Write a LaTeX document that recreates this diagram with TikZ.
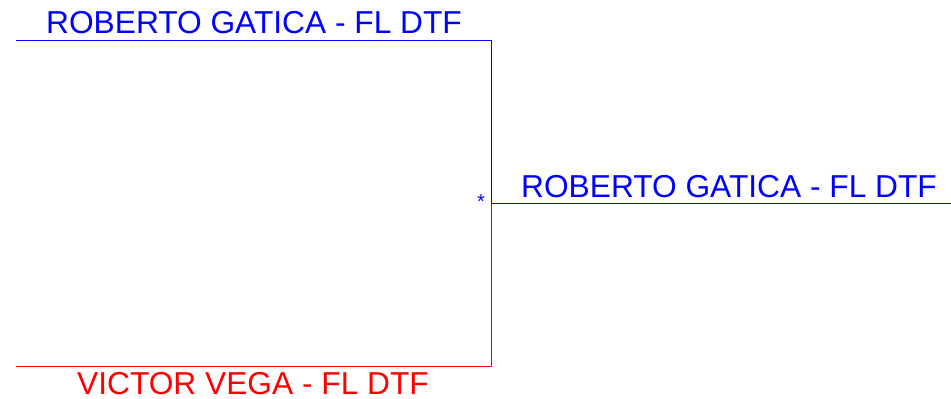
\documentclass[tikz,border=0pt]{standalone}
\usepackage{fontspec}
\setmainfont{Liberation Sans}
\definecolor{pblue}{RGB}{0,0,255}
\definecolor{pred}{RGB}{255,0,0}
\begin{document}
\begin{tikzpicture}[x=1pt,y=-1pt,
  playerlabel/.style={font=\fontsize{31.7}{32}\selectfont, inner sep=0pt, anchor=base, text depth=0pt},
  wire/.style={line width=1pt}]
\useasboundingbox (0,0) rectangle (951,399);
% coordinates
\coordinate (tl) at (16,40);
\coordinate (tr) at (491,40);
\coordinate (mid) at (491,203);
\coordinate (br) at (491,366);
\coordinate (bl) at (16,366);
\coordinate (rr) at (951,203);
% labels
\node[playerlabel, text=pblue] (top) at (254,33) {ROBERTO GATICA - FL DTF};
\node[playerlabel, text=pred] (bot) at (253,394.5) {VICTOR VEGA - FL DTF};
\node[playerlabel, text=pblue] (win) at (729,197) {ROBERTO GATICA - FL DTF};
\node[text=pblue, font=\fontsize{20}{20}\selectfont, inner sep=0pt, anchor=base, text depth=0pt] (star) at (481,208.5) {*};
% lines
\draw[wire, pblue] (tl) -- (tr) -- (mid);
\draw[wire, pred] (mid) -- (br) -- (bl);
\draw[wire, pblue] (mid) -- (rr);
\end{tikzpicture}
\end{document}
